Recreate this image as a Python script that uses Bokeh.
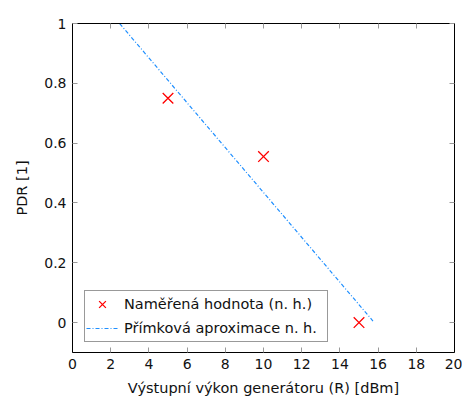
import numpy as np
from bokeh.plotting import figure
from bokeh.models import LinearAxis, FixedTicker, Legend, LegendItem, Range1d
from bokeh.embed import file_html
from bokeh.resources import INLINE

# data
meas_x = [5, 10, 15]
meas_y = [0.75, 0.555, 0.0]
fit_domain = [2.47, 15.73]
x_ticks = [0, 2, 4, 6, 8, 10, 12, 14, 16, 18, 20]
y_ticks = [0, 0.2, 0.4, 0.6, 0.8, 1]
y_tick_labels = ["0", "0.2", "0.4", "0.6", "0.8", "1"]
x_label = "Výstupní výkon generátoru (R) [dBm]"
y_label = "PDR [1]"
legend_labels = ["Naměřená hodnota (n. h.)", "Přímková aproximace n. h."]

slope, intercept = np.polyfit(meas_x, meas_y, 1)
fit_x = list(fit_domain)
fit_y = [slope * v + intercept for v in fit_x]

FONT = "DejaVu Sans"
FS_TICK = "14px"
FS = "14.5px"

p = figure(width=462, height=398, output_backend="svg", toolbar_location=None,
           x_range=Range1d(0, 20), y_range=Range1d(-0.1, 1.0),
           min_border_left=72, min_border_right=8, min_border_top=23, min_border_bottom=46)
p.xgrid.visible = False
p.ygrid.visible = False
p.outline_line_color = "black"
p.outline_line_width = 1

for ax in (p.xaxis[0], p.yaxis[0]):
    ax.major_tick_in = 5
    ax.major_tick_out = 0
    ax.minor_tick_line_color = None
    ax.major_tick_line_color = "#999999"
    ax.axis_line_color = "black"
    ax.major_label_text_font = FONT
    ax.major_label_text_font_size = FS_TICK
    ax.major_label_text_color = "#111111"
    ax.axis_label_text_font = FONT
    ax.axis_label_text_font_size = FS
    ax.axis_label_text_font_style = "normal"
    ax.axis_label_text_color = "#111111"

p.xaxis[0].ticker = FixedTicker(ticks=x_ticks)
p.yaxis[0].ticker = FixedTicker(ticks=y_ticks)
p.yaxis[0].major_label_overrides = {t: l for t, l in zip(y_ticks, y_tick_labels)}
p.xaxis[0].axis_label = x_label
p.yaxis[0].axis_label = y_label
p.xaxis[0].major_label_standoff = 6
p.yaxis[0].major_label_standoff = 6
p.xaxis[0].axis_label_standoff = 8
p.yaxis[0].axis_label_standoff = 11

top = LinearAxis(ticker=FixedTicker(ticks=x_ticks), major_label_text_font_size="0px",
                 major_tick_in=5, major_tick_out=0, minor_tick_line_color=None,
                 major_tick_line_color="#999999", axis_line_color="black")
right = LinearAxis(ticker=FixedTicker(ticks=y_ticks), major_label_text_font_size="0px",
                   major_tick_in=5, major_tick_out=0, minor_tick_line_color=None,
                   major_tick_line_color="#999999", axis_line_color="black")
top.major_label_standoff = 0
right.major_label_standoff = 0
p.add_layout(top, "above")
p.add_layout(right, "right")

r_fit = p.line(fit_x, fit_y, line_color="#1f8fff", line_width=1.2, line_dash="4 2 1 2")
r_meas = p.scatter(meas_x, meas_y, marker="x", size=15, line_color="red", line_width=1.3)

legend = Legend(items=[LegendItem(label=legend_labels[0], renderers=[r_meas]),
                       LegendItem(label=legend_labels[1], renderers=[r_fit])],
                location=(12, 10), label_text_font=FONT, label_text_font_size=FS,
                label_text_color="#111111", border_line_color="#333333", border_line_width=1,
                background_fill_alpha=1, glyph_width=32, glyph_height=24, label_height=20,
                label_width=202, padding=1, spacing=0, margin=0, label_standoff=6)
p.add_layout(legend, "center")

open("out.html", "w").write(file_html(p, INLINE))
